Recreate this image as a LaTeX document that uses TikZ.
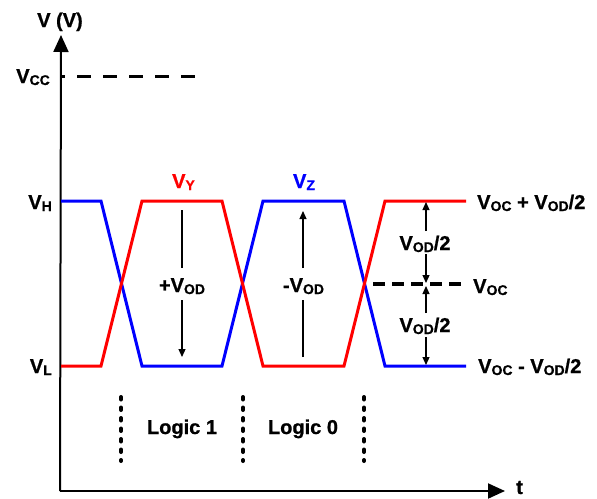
\documentclass[tikz,border=0pt]{standalone}
\usepackage{fontspec}
\setmainfont{Liberation Sans}[BoldFont={Liberation Sans Bold}]
\newfontfamily\lbfont{Liberation Sans Bold}[FakeBold=0.8]
\usetikzlibrary{arrows.meta}
\newcommand\sbs[1]{\raisebox{-2pt}{\fontsize{14}{14}\selectfont #1}}
\definecolor{myred}{RGB}{255,0,0}
\definecolor{myblue}{RGB}{0,0,255}
\begin{document}
\begin{tikzpicture}[x=1pt,y=-1pt,
  lbl/.style={inner sep=0pt, font=\lbfont\fontsize{20}{20}\selectfont},
  wave/.style={line width=3pt, line join=miter},
  axis/.style={line width=2pt, -{Triangle[length=17pt,width=15pt]}},
  meas/.style={line width=1.2pt},
  meastip/.style={meas, -{Triangle[length=8pt,width=7pt]}},
  thickdash/.style={line width=3pt, dash pattern=on 14pt off 12pt, dash phase=10pt},
  ocdash/.style={line width=3.5pt, dash pattern=on 12pt off 7pt},
  dotline/.style={line width=4pt, line cap=round, dash pattern=on 2.5pt off 8pt}
]
\useasboundingbox (0,0) rectangle (597,498);

% axes
\coordinate (O) at (61,491);
\coordinate (ytop) at (61,35);
\coordinate (xend) at (505,491);
\draw[axis] ([xshift=-1pt]O) -- (ytop);
\draw[axis] ([xshift=-1pt]O) -- (xend);

% Vcc dashed level
\coordinate (vcc1) at (61,76);
\coordinate (vcc2) at (198,76);
\draw[thickdash] (vcc1) -- (vcc2);

% waveforms
\draw[wave, myblue] (61,201) -- (101,201) -- (142,366) -- (222,366) -- (263,201) -- (344,201) -- (385,366) -- (466,366);
\draw[wave, myred] (61,366) -- (101,366) -- (142,201) -- (222,201) -- (263,366) -- (344,366) -- (385,201) -- (466,201);

% Voc dashed level
\coordinate (voc1) at (373,284);
\coordinate (voc2) at (461,284);
\draw[ocdash] (voc1) -- (voc2);

% logic boundaries
\foreach \x in {121,243,364}
  \draw[dotline] (\x,397) -- (\x,461);

% labels
\node[lbl, anchor=base] (vv) at (60,27) {V (V)};
\node[lbl, anchor=base east] (vcc) at (50,83) {V\sbs{CC}};
\node[lbl, anchor=base east] (vh) at (52,209) {V\sbs{H}};
\node[lbl, anchor=base east] (vl) at (52,373) {V\sbs{L}};
\node[lbl, anchor=base, text=myred] (vy) at (183.5,188) {V\sbs{Y}};
\node[lbl, anchor=base, text=myblue] (vz) at (304,188) {V\sbs{Z}};
\node[lbl, anchor=base] (pvod) at (182,292) {+V\sbs{OD}};
\node[lbl, anchor=base] (mvod) at (303.5,292) {-V\sbs{OD}};
\node[lbl, anchor=base] (hvod1) at (425,250) {V\sbs{OD}/2};
\node[lbl, anchor=base] (hvod2) at (425,332) {V\sbs{OD}/2};
\node[lbl, anchor=base west] (voc) at (473,293) {V\sbs{OC}};
\node[lbl, anchor=base west] (vocp) at (477,209) {V\sbs{OC} + V\sbs{OD}/2};
\node[lbl, anchor=base west] (vocm) at (478,373) {V\sbs{OC} - V\sbs{OD}/2};
\node[lbl, anchor=base] (l1) at (182,434) {Logic 1};
\node[lbl, anchor=base] (l0) at (303,434) {Logic 0};
\node[lbl, anchor=base west] (t) at (516,494) {t};

% +Vod arrow
\draw[meas] (182,210) -- (182,268);
\draw[meastip] (182,300) -- (182,357);
% -Vod arrow
\draw[meas] (303,357) -- (303,300);
\draw[meastip] (303,268) -- (303,211);
% Vod/2 arrows
\draw[meastip] (426,231) -- (426,202);
\draw[meastip] (426,254) -- (426,283);
\draw[meastip] (426,313) -- (426,286);
\draw[meastip] (426,337) -- (426,365);
\end{tikzpicture}
\end{document}
